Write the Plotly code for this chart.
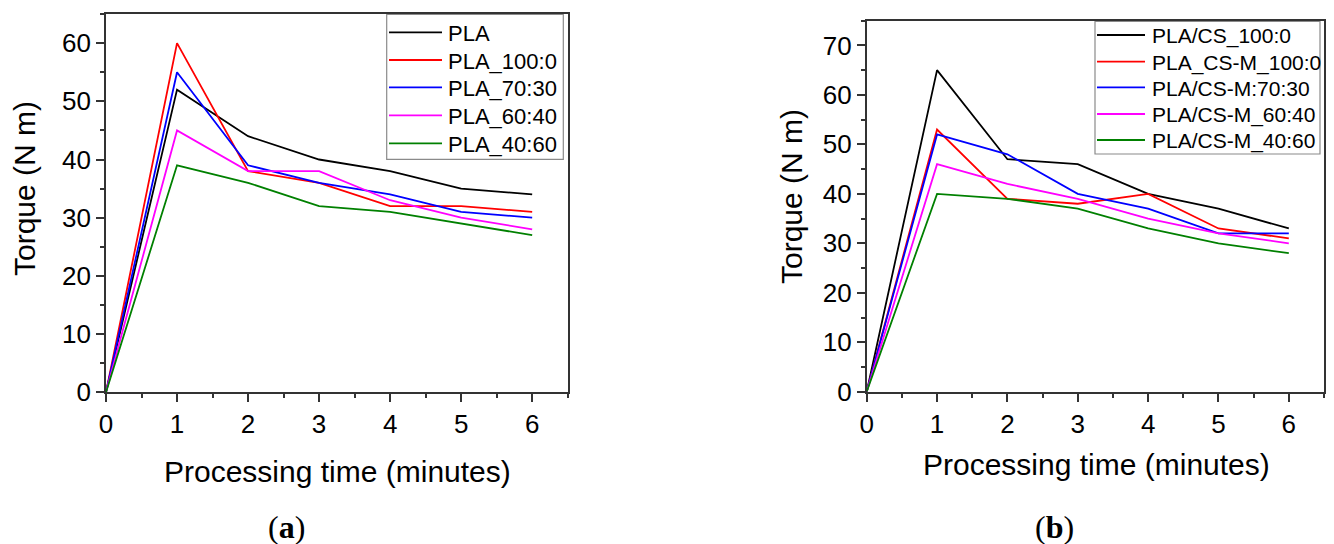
import plotly.graph_objects as go

time_min = [0, 1, 2, 3, 4, 5, 6]

# Panel (a)
names_a = ["PLA", "PLA_100:0", "PLA_70:30", "PLA_60:40", "PLA_40:60"]
pla = [0, 52, 44, 40, 38, 35, 34]
pla_100_0 = [0, 60, 38, 36, 32, 32, 31]
pla_70_30 = [0, 55, 39, 36, 34, 31, 30]
pla_60_40 = [0, 45, 38, 38, 33, 30, 28]
pla_40_60 = [0, 39, 36, 32, 31, 29, 27]

# Panel (b)
names_b = ["PLA/CS_100:0", "PLA_CS-M_100:0", "PLA/CS-M:70:30", "PLA/CS-M_60:40", "PLA/CS-M_40:60"]
cs_100_0 = [0, 65, 47, 46, 40, 37, 33]
csm_100_0 = [0, 53, 39, 38, 40, 33, 31]
csm_70_30 = [0, 52, 48, 40, 37, 32, 32]
csm_60_40 = [0, 46, 42, 39, 35, 32, 30]
csm_40_60 = [0, 40, 39, 37, 33, 30, 28]

colors = ["#000000", "#ff0000", "#0000ff", "#ff00ff", "#008000"]

series_a = [pla, pla_100_0, pla_70_30, pla_60_40, pla_40_60]
series_b = [cs_100_0, csm_100_0, csm_70_30, csm_60_40, csm_40_60]

W, H = 1334, 544
FONT = "Liberation Sans, Arial, sans-serif"
LW = 1.8

fig = go.Figure()
for name, vals, c in zip(names_a, series_a, colors):
    fig.add_trace(go.Scatter(x=time_min, y=vals, name=name, mode="lines",
                             line=dict(color=c, width=LW),
                             xaxis="x", yaxis="y", showlegend=False))
for name, vals, c in zip(names_b, series_b, colors):
    fig.add_trace(go.Scatter(x=time_min, y=vals, name=name, mode="lines",
                             line=dict(color=c, width=LW),
                             xaxis="x2", yaxis="y2", showlegend=False))

def px_x(v):
    return v / W

def px_y(v):
    return (H - v) / H

axis_common = dict(showline=True, linecolor="#333333", linewidth=1.6, mirror=True,
                   ticks="outside", ticklen=8, tickwidth=1.5, tickcolor="#333333",
                   showgrid=False, zeroline=False, automargin=False,
                   tickfont=dict(family=FONT, size=26, color="#000000"))

xa = dict(axis_common, range=[0, 6.5], tick0=0, dtick=1,
          minor=dict(dtick=0.5, ticks="outside", ticklen=4, tickwidth=1.5, tickcolor="#333333"))

fig.update_layout(
    width=W, height=H,
    margin=dict(l=0, r=0, t=0, b=0, autoexpand=False),
    paper_bgcolor="white", plot_bgcolor="white",
    showlegend=False,
    xaxis=dict(xa, domain=[px_x(106), px_x(567.7)], anchor="y"),
    yaxis=dict(axis_common, domain=[px_y(392.3), px_y(14)], anchor="x",
               range=[0, 65], tick0=0, dtick=10,
               minor=dict(dtick=5, ticks="outside", ticklen=4, tickwidth=1.5, tickcolor="#333333")),
    xaxis2=dict(xa, domain=[px_x(866.7), px_x(1324)], anchor="y2"),
    yaxis2=dict(axis_common, domain=[px_y(391.7), px_y(20.7)], anchor="x2",
                range=[0, 75], tick0=0, dtick=10,
                minor=dict(dtick=5, ticks="outside", ticklen=4, tickwidth=1.5, tickcolor="#333333")),
)

# Manual legends (box, line samples, labels) placed in pixel positions
def add_legend(names, box, line_x0, line_x1, text_x, rows, fsize):
    x0, y0, x1, y1 = box
    fig.add_shape(type="rect", xref="paper", yref="paper",
                  x0=px_x(x0), x1=px_x(x1), y0=px_y(y1), y1=px_y(y0),
                  line=dict(color="#8a8a8a", width=1.2), fillcolor="white", layer="above")
    for name, c, ry in zip(names, colors, rows):
        fig.add_shape(type="line", xref="paper", yref="paper",
                      x0=px_x(line_x0), x1=px_x(line_x1), y0=px_y(ry), y1=px_y(ry),
                      line=dict(color=c, width=LW), layer="above")
        fig.add_annotation(text=name, xref="paper", yref="paper",
                           x=px_x(text_x), y=px_y(ry + 1), showarrow=False,
                           xanchor="left", yanchor="middle",
                           font=dict(family=FONT, size=fsize, color="#000000"))

add_legend(names_a, (386.7, 14.5, 563.3, 159.3), 389, 442, 446, [32.3, 60, 87.3, 115.3, 143.3], 22)
add_legend(names_b, (1095, 21.5, 1320, 154), 1097, 1145, 1150, [35, 61.7, 87.3, 114, 140], 21)

title_font = dict(family=FONT, size=30, color="#000000")
annots = [
    dict(text="Torque (N m)", x=px_x(24), y=px_y(189), textangle=-90),
    dict(text="Torque (N m)", x=px_x(791), y=px_y(197), textangle=-90),
    dict(text="Processing time (minutes)", x=px_x(337.5), y=px_y(471)),
    dict(text="Processing time (minutes)", x=px_x(1096), y=px_y(464)),
]
for a in annots:
    fig.add_annotation(xref="paper", yref="paper", showarrow=False,
                       xanchor="center", yanchor="middle", font=title_font, **a)

label_font = dict(family="Liberation Serif, DejaVu Serif, serif", size=32, color="#000000")
fig.add_annotation(text="(<b>a</b>)", xref="paper", yref="paper", x=px_x(286.7), y=px_y(527),
                   showarrow=False, xanchor="center", yanchor="middle", font=label_font)
fig.add_annotation(text="(<b>b</b>)", xref="paper", yref="paper", x=px_x(1054), y=px_y(527),
                   showarrow=False, xanchor="center", yanchor="middle", font=label_font)

fig.write_html("out.html", config={"displayModeBar": False},
               post_script="document.body.style.margin='0';document.body.style.overflow='hidden';")
